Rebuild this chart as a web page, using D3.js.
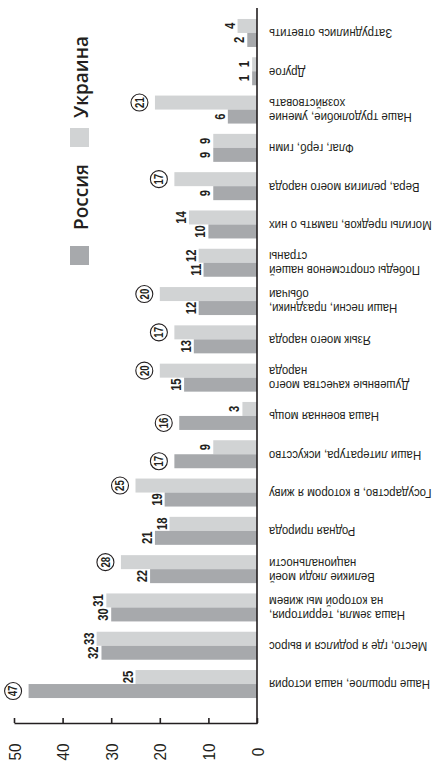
<!DOCTYPE html>
<html><head><meta charset="utf-8">
<script src="https://cdn.jsdelivr.net/npm/d3@7"></script>
<style>
html,body{margin:0;padding:0;background:#fff;}
svg{display:block;}
</style></head>
<body>
<svg id="chart" width="439" height="764"></svg>
<script>
// Categories (first = bottom of the picture)
const categories = [
  "Наше прошлое, наша история",
  "Место, где я родился и вырос",
  "Наша земля, территория,|на которой мы живем",
  "Великие люди моей|национальности",
  "Родная природа",
  "Государство, в котором я живу",
  "Наши литература, искусство",
  "Наша военная мощь",
  "Душевные качества моего|народа",
  "Язык моего народа",
  "Наши песни, праздники,|обычаи",
  "Победы спортсменов нашей|страны",
  "Могилы предков, память о них",
  "Вера, религия моего народа",
  "Флаг, герб, гимн",
  "Наше трудолюбие, умение|хозяйствовать",
  "Другое",
  "Затруднились ответить"
];
const russia  = [47, 32, 30, 22, 21, 19, 17, 16, 15, 13, 12, 11, 10, 9, 9, 6, 1, 2];
const ukraine = [25, 33, 31, 28, 18, 25, 9, 3, 20, 17, 20, 12, 14, 17, 9, 21, 1, 4];
const russiaCircled  = [1,0,0,0,0,0,1,1,0,0,0,0,0,0,0,0,0,0];
const ukraineCircled = [0,0,0,1,0,1,0,0,1,1,1,0,0,1,0,1,0,0];
const seriesNames = ["Россия", "Украина"];
const tickValues = [0, 10, 20, 30, 40, 50];

const C_DARK = "#a7a9ac", C_LIGHT = "#d1d3d4", C_INK = "#231f20";
const SANS = "'Liberation Sans',Arial,sans-serif";
const CONDX = 0.8;   // condensation of the bold figures
const LABX = 0.88;   // condensation of the category labels

const svg = d3.select("#chart");
const x = d3.scaleLinear().domain([0, 50]).range([257, 14]);
const order = categories.map((d, i) => i).reverse(); // top of picture = last category
const y = d3.scaleBand().domain(order).range([13.8, 703.2]).paddingInner(0.269).paddingOuter(0.135);
const sub = d3.scaleBand().domain(["U", "R"]).range([0, y.bandwidth()]);
const axisY = 723;

const rows = categories.map((c, i) => ({i, c, R: russia[i], U: ukraine[i], cR: russiaCircled[i], cU: ukraineCircled[i]}));
const bars = [];
rows.forEach(r => {
  bars.push({i: r.i, key: "U", v: r.U, circ: r.cU});
  bars.push({i: r.i, key: "R", v: r.R, circ: r.cR});
});

// bars
svg.append("g").selectAll("rect").data(bars).join("rect")
  .attr("x", d => x(d.v))
  .attr("y", d => y(d.i) + sub(d.key))
  .attr("width", d => x(0) - x(d.v))
  .attr("height", sub.bandwidth())
  .attr("fill", d => d.key === "R" ? C_DARK : C_LIGHT);

// value labels
const lab = svg.append("g");
bars.forEach(d => {
  const cy = y(d.i) + sub(d.key) + sub.bandwidth() / 2;
  if (d.circ) {
    const cx = x(d.v) - 15.5;
    lab.append("circle").attr("cx", cx).attr("cy", cy).attr("r", 8.5)
      .attr("fill", "#fff").attr("stroke", C_INK).attr("stroke-width", 1.1);
    lab.append("text").text(d.v)
      .attr("transform", `translate(${cx + 4.2},${cy}) rotate(-90) scale(${CONDX},1)`)
      .attr("text-anchor", "middle")
      .attr("font-family", SANS).attr("font-weight", "bold").attr("font-size", 12)
      .attr("fill", C_INK);
  } else {
    const bx = x(d.v) - 3;
    lab.append("text").text(d.v)
      .attr("transform", `translate(${bx},${cy}) rotate(-90) scale(${CONDX},1)`)
      .attr("text-anchor", "middle")
      .attr("font-family", SANS).attr("font-weight", "bold").attr("font-size", 14)
      .attr("fill", C_INK);
  }
});

// baseline (category axis)
svg.append("line").attr("x1", x(0)).attr("x2", x(0)).attr("y1", 8).attr("y2", axisY + 0.75)
  .attr("stroke", C_INK).attr("stroke-width", 1.6);

// value axis
const ax = svg.append("g").attr("transform", `translate(0,${axisY})`)
  .call(d3.axisBottom(x).tickValues(tickValues).tickSize(-5).tickSizeOuter(0));
ax.select(".domain").attr("stroke", C_INK).attr("stroke-width", 1.6);
ax.selectAll(".tick line").attr("stroke", C_INK).attr("stroke-width", 1.6);
ax.selectAll(".tick text")
  .attr("y", null).attr("dy", null)
  .attr("transform", "translate(6,29) rotate(-90) scale(0.9,1)")
  .attr("text-anchor", "middle")
  .attr("font-family", SANS)
  .attr("font-size", 17).attr("fill", C_INK);

// category labels (upside down)
const cl = svg.append("g");
rows.forEach(r => {
  const lines = r.c.split("|");
  const cy = y(r.i) + y.bandwidth() / 2 + 1;
  const L = 14;
  const t = cl.append("text")
    .attr("transform", `translate(269,${cy}) rotate(180) scale(${LABX},1)`)
    .attr("text-anchor", "end")
    .attr("font-family", SANS).attr("font-size", 13).attr("fill", C_INK);
  lines.forEach((ln, k) => {
    const base = 4.6 - (lines.length - 1) * L / 2 + k * L;
    t.append("tspan").attr("x", 0).attr("y", base).text(ln);
  });
});

// legend
const legend = [
  {name: seriesNames[0], color: C_DARK, sq: 246, tx: 230},
  {name: seriesNames[1], color: C_LIGHT, sq: 128, tx: 118}
];
const lg = svg.append("g");
legend.forEach(l => {
  lg.append("rect").attr("x", 70).attr("y", l.sq).attr("width", 19).attr("height", 19).attr("fill", l.color);
  lg.append("text").text(l.name)
    .attr("transform", `translate(88,${l.tx}) rotate(-90)`)
    .attr("text-anchor", "start")
    .attr("font-family", "'Open Sans',sans-serif").attr("font-weight", 600).attr("font-size", 19)
    .attr("fill", C_INK);
});
</script>
</body></html>
